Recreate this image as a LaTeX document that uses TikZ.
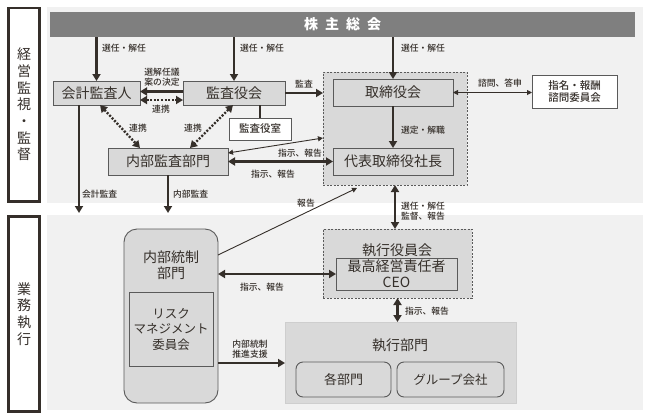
\documentclass[tikz,border=0pt]{standalone}
\usepackage{fontspec}
\setmainfont{Noto Sans CJK JP}
\newfontfamily\labelfont{Noto Sans CJK JP Medium}
\usetikzlibrary{arrows.meta}
\definecolor{ink}{HTML}{352F2A}
\definecolor{panelgray}{HTML}{F1F1F1}
\definecolor{boxgray}{HTML}{D9D9D9}
\definecolor{bargray}{HTML}{7F7F7F}
\definecolor{edgegray}{HTML}{5A5A5A}

\begin{document}
\begin{tikzpicture}[x=1pt,y=-1pt,
  every node/.style={inner sep=0pt, outer sep=0pt, text=ink},
  unit/.style={draw=edgegray, line width=0.9pt, fill=boxgray, align=center, font=\fontsize{14}{16}\selectfont},
  whitebox/.style={draw=edgegray, line width=0.9pt, fill=white, align=center, font=\labelfont\fontsize{10.5}{12.5}\selectfont},
  dashbox/.style={draw=edgegray, line width=0.8pt, dash pattern=on 2pt off 1.5pt, fill=boxgray},
  sidebox/.style={draw=ink, line width=2.5pt, fill=white, align=center, font=\fontsize{14}{16.7}\selectfont},
  lbl/.style={font=\labelfont\fontsize{8.8}{10.5}\selectfont, align=center},
  link/.style={draw=ink, line width=2.2pt, -{Triangle[length=7pt,width=8pt]}},
  twolink/.style={draw=ink, line width=2.2pt, {Triangle[length=7pt,width=8pt]}-{Triangle[length=7pt,width=8pt]}},
  thinlink/.style={draw=ink, line width=0.9pt, {Triangle[length=5pt,width=5pt]}-{Triangle[length=5pt,width=5pt]}},
  coop/.style={draw=ink, line width=2.4pt, dash pattern=on 2pt off 1.6pt, {Triangle[length=7pt,width=8pt]}-{Triangle[length=7pt,width=8pt]}}]

\useasboundingbox (0,0) rectangle (648,418);

% panels
\fill[panelgray] (47,7) rectangle (643,203);
\fill[panelgray] (47,215) rectangle (643,410);

\node[sidebox, minimum width=31pt, minimum height=193.5pt] (kanshi) at (24,104.5) {経\\営\\監\\視\\・\\監\\督};
\node[sidebox, minimum width=31pt, minimum height=195pt] (gyomu) at (24,314) {業\\務\\執\\行};

\node[fill=bargray, minimum width=585pt, minimum height=25.5pt, text=white, font=\fontsize{14}{16}\selectfont\bfseries] (soukai) at (342.5,24.5) {株\hspace{7pt}主\hspace{7pt}総\hspace{7pt}会};

% upper part
\node[dashbox, minimum width=144pt, minimum height=113pt] (board) at (395,128.5) {};
\node[unit, minimum width=87pt, minimum height=24pt] (kaikei) at (96.5,93) {会計監査人};
\node[unit, minimum width=102pt, minimum height=24pt] (kansayaku) at (234,93) {監査役会};
\node[whitebox, minimum width=62pt, minimum height=22pt] (kansashitsu) at (260,129) {監査役室};
\node[unit, minimum width=120pt, minimum height=27pt] (naibu) at (168,161.5) {内部監査部門};
\node[unit, minimum width=120pt, minimum height=27pt] (torishimari) at (393,92.5) {取締役会};
\node[unit, minimum width=120pt, minimum height=27pt] (daihyo) at (393,161.5) {代表取締役社長};
\node[whitebox, minimum width=85pt, minimum height=33pt] (shimei) at (574.5,91.5) {指名・報酬\\諮問委員会};

% lower part
\node[dashbox, minimum width=149pt, minimum height=69pt] (exec) at (397.5,263.5) {};
\node[font=\fontsize{14}{16}\selectfont] (execname) at (397,250) {執行役員会};
\node[unit, minimum width=121pt, minimum height=32pt] (ceo) at (396.5,274) {最高経営責任者\\CEO};
\node[unit, rounded corners=13pt, minimum width=94pt, minimum height=174pt] (naitou) at (171,316) {};
\node[align=center, font=\fontsize{14}{16}\selectfont] (naitouname) at (171,265) {内部統制\\部門};
\node[unit, minimum width=84pt, minimum height=74pt, font=\fontsize{12.5}{15.5}\selectfont] (risk) at (171,329) {リスク\\マネジメント\\委員会};
\node[fill=boxgray, draw=boxgray!80!black!60, line width=0.5pt, minimum width=231pt, minimum height=81pt] (shikko) at (400.5,362.5) {};
\node[font=\fontsize{14}{16}\selectfont] (shikkoname) at (400,345) {執行部門};
\node[unit, rounded corners=7pt, minimum width=95pt, minimum height=35pt, font=\fontsize{13}{15}\selectfont] (kakubu) at (343.5,379.5) {各部門};
\node[unit, rounded corners=7pt, minimum width=107pt, minimum height=35pt, font=\fontsize{12.5}{15}\selectfont] (group) at (450.5,379.5) {グループ会社};

\coordinate (audit1) at (79,213);
\coordinate (reporttip) at (357,188);

% connectors
\draw[link] (soukai.south -| kaikei) -- (kaikei.north);
\node[lbl, anchor=west] (l1) at (102,48) {選任・解任};
\draw[link] (soukai.south -| kansayaku) -- (kansayaku.north);
\node[lbl, anchor=west] (l2) at (240,48) {選任・解任};
\draw[link] (soukai.south -| torishimari) -- (torishimari.north);
\node[lbl, anchor=west] (l3) at (401,48) {選任・解任};

\draw[link] ([yshift=1.5pt]kansayaku.west) -- ([yshift=1.5pt]kaikei.east);
\node[lbl] (l4) at (162,77) {選解任議\\案の決定};
\draw[coop] ([yshift=-7pt]kaikei.east) -- ([yshift=-7pt]kansayaku.west);
\node[lbl] (l5) at (161,109) {連携};
\draw[link] (kansayaku.east) -- (kansayaku.east -| board.west);
\node[lbl] (l6) at (304,84) {監査};
\draw[draw=ink, line width=2.2pt] (kansashitsu.north |- kansayaku.south) -- (kansashitsu.north);

\draw[coop] ([xshift=3.5pt]kaikei.south) -- ([xshift=-28pt]naibu.north);
\node[lbl] (l7) at (138,128) {連携};
\draw[coop] ([xshift=-1pt]kansayaku.south) -- ([xshift=22pt]naibu.north);
\node[lbl] (l8) at (193,128) {連携};

\draw[thinlink] ([yshift=8.5pt]naibu.east) -- ([yshift=-9.5pt]board.west);
\node[lbl] (l9) at (300,153) {指示、報告};
\draw[twolink] (naibu.east) -- (daihyo.west);
\node[lbl] (l10) at (273,174) {指示、報告};

\draw[link] (kaikei.south -| audit1) -- (audit1);
\node[lbl, anchor=west] (l11) at (82,194) {会計監査};
\draw[link] (naibu.south) -- (naibu.south |- audit1);
\node[lbl, anchor=west] (l12) at (173,194) {内部監査};

\draw[thinlink] (torishimari.east) -- (torishimari.east -| shimei.west);
\node[lbl] (l13) at (500,83) {諮問、答申};
\draw[link] (torishimari.south) -- (daihyo.north);
\node[lbl, anchor=west] (l14) at (401,130) {選定・解職};

\draw[draw=ink, line width=0.9pt, -{Triangle[length=5pt,width=5pt]}] ([yshift=61pt]naitou.east) -- (reporttip);
\node[lbl] (l15) at (306,203) {報告};
\draw[twolink] (board.south) -- (board.south |- exec.north);
\node[lbl, anchor=west] (l16) at (401,211) {選任・解任\\監督、報告};

\draw[twolink] ([yshift=42pt]naitou.east) -- (ceo.west);
\node[lbl] (l17) at (262,287) {指示、報告};
\draw[twolink] (exec.south) -- (exec.south |- shikko.north);
\node[lbl, anchor=west] (l18) at (405,311) {指示、報告};
\draw[link] ([yshift=-47pt]naitou.east) -- ([yshift=-47pt]naitou.east -| shikko.west);
\node[lbl] (l19) at (250,349) {内部統制\\推進支援};
\end{tikzpicture}
\end{document}
